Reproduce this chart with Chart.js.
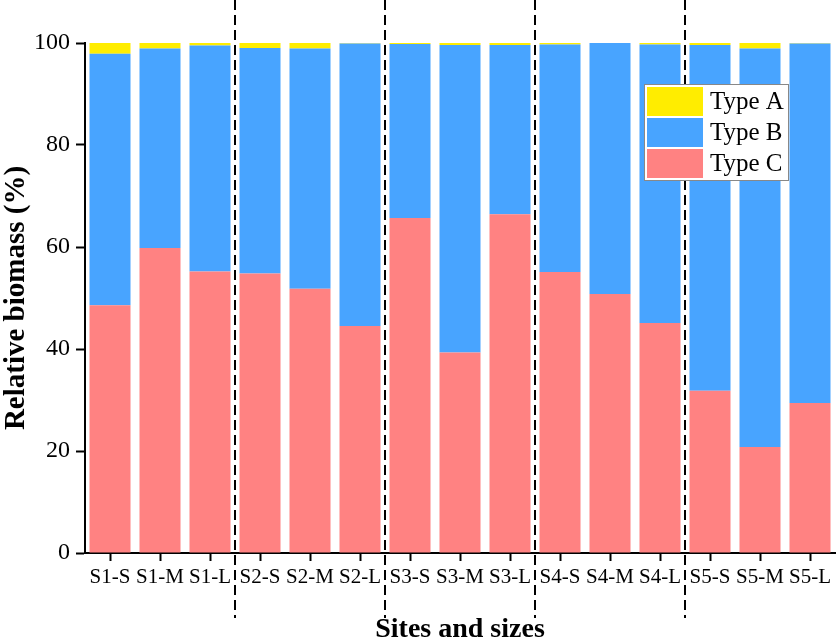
<!DOCTYPE html>
<html>
<head>
<meta charset="utf-8">
<title>Relative biomass</title>
<script src="https://cdn.jsdelivr.net/npm/chart.js@4.4.1/dist/chart.umd.min.js"></script>
<style>
  html, body { margin: 0; padding: 0; background: #fff; }
  canvas { display: block; }
</style>
</head>
<body>
<canvas id="chart" width="837" height="642"></canvas>
<script>
// Categories (site-size) and stacked shares (%)
const categories = ['S1-S', 'S1-M', 'S1-L', 'S2-S', 'S2-M', 'S2-L', 'S3-S', 'S3-M', 'S3-L',
                    'S4-S', 'S4-M', 'S4-L', 'S5-S', 'S5-M', 'S5-L'];
const typeA = [2.1, 1.1, 0.5, 1.0, 1.1, 0.1, 0.2, 0.4, 0.4, 0.3, 0.0, 0.3, 0.4, 1.1, 0.1];
const typeB = [49.3, 39.1, 44.3, 44.2, 47.1, 55.4, 34.1, 60.3, 33.2, 44.6, 49.2, 54.6, 67.8, 78.1, 70.5];
const typeC = [48.6, 59.8, 55.2, 54.8, 51.8, 44.5, 65.7, 39.3, 66.4, 55.1, 50.8, 45.1, 31.8, 20.8, 29.4];
const yTicks = [0, 20, 40, 60, 80, 100];

const serif = "'Liberation Serif', 'Times New Roman', serif";

// Dashed separators between sites
const siteDividers = {
    id: 'siteDividers',
    afterDatasetsDraw(chart) {
        const x = chart.scales.x;
        const ctx = chart.ctx;
        ctx.save();
        ctx.strokeStyle = '#000';
        ctx.lineWidth = 2;
        ctx.setLineDash([10, 5]);
        for (let i = 1; i < categories.length; i++) {
            if (categories[i].split('-')[0] === categories[i - 1].split('-')[0]) continue;
            const px = Math.round((x.getPixelForValue(i - 1) + x.getPixelForValue(i)) / 2);
            ctx.beginPath();
            ctx.moveTo(px, 0);
            ctx.lineTo(px, 618);
            ctx.stroke();
        }
        ctx.restore();
    }
};

// Boxed legend inside the plot, top item = top of stack
const boxLegend = {
    id: 'boxLegend',
    afterDraw(chart) {
        const ctx = chart.ctx;
        const sets = chart.data.datasets.slice().reverse();
        const bx = 644, by = 84, bw = 144, bh = 96;
        ctx.save();
        ctx.fillStyle = '#fff';
        ctx.fillRect(bx, by, bw, bh);
        ctx.strokeStyle = '#888';
        ctx.lineWidth = 1;
        ctx.strokeRect(bx + 0.5, by + 0.5, bw, bh);
        ctx.font = '25px ' + serif;
        ctx.textBaseline = 'middle';
        sets.forEach((ds, i) => {
            const y = by + 3 + i * 31;
            ctx.fillStyle = ds.backgroundColor;
            ctx.fillRect(bx + 3, y, 56, 29);
            ctx.fillStyle = '#000';
            ctx.fillText(ds.label, bx + 66, y + 15);
        });
        ctx.restore();
    }
};

const ctx = document.getElementById('chart').getContext('2d');
new Chart(ctx, {
    type: 'bar',
    data: {
        labels: categories,
        datasets: [
            { label: 'Type C', data: typeC, backgroundColor: '#FF8282' },
            { label: 'Type B', data: typeB, backgroundColor: '#48A4FF' },
            { label: 'Type A', data: typeA, backgroundColor: '#FFED00' }
        ]
    },
    options: {
        responsive: false,
        animation: false,
        devicePixelRatio: 1,
        datasets: {
            bar: { barPercentage: 0.82, categoryPercentage: 1, borderWidth: 0 }
        },
        layout: { padding: { top: 43, right: 2, left: 0, bottom: 0 } },
        plugins: {
            legend: { display: false },
            tooltip: { enabled: false }
        },
        scales: {
            x: {
                stacked: true,
                afterFit(scale) { scale.height = 89; },
                grid: {
                    display: true, offset: false, drawOnChartArea: false,
                    drawTicks: true, tickLength: 8, tickWidth: 2, tickColor: '#000'
                },
                border: { display: true, color: '#000', width: 2 },
                ticks: {
                    color: '#000', font: { family: serif, size: 21 },
                    padding: 4, maxRotation: 0, autoSkip: false
                },
                title: {
                    display: true, text: 'Sites and sizes', color: '#000',
                    font: { family: serif, size: 28, weight: 'bold', lineHeight: 1 },
                    padding: { top: 0, bottom: -2 }
                }
            },
            y: {
                stacked: true,
                min: 0,
                max: 100,
                afterFit(scale) { scale.width = 85; },
                afterBuildTicks(scale) { scale.ticks = yTicks.map(v => ({ value: v })); },
                grid: {
                    display: true, drawOnChartArea: false,
                    drawTicks: true, tickLength: 9, tickWidth: 2, tickColor: '#000'
                },
                border: { display: true, color: '#000', width: 2 },
                ticks: {
                    color: '#000', font: { family: serif, size: 24 }, padding: 6
                },
                title: {
                    display: true, text: 'Relative biomass (%)', color: '#000',
                    font: { family: serif, size: 29, weight: 'bold', lineHeight: 1 },
                    padding: { top: 2, bottom: 0 }
                }
            }
        }
    },
    plugins: [siteDividers, boxLegend]
});
</script>
</body>
</html>
